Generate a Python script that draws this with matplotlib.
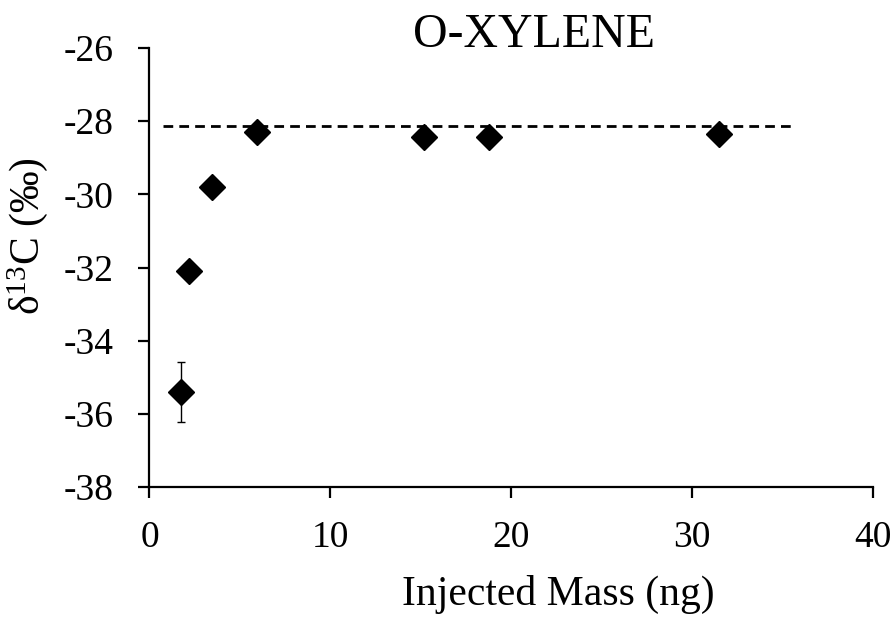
import matplotlib
matplotlib.use("Agg")
import matplotlib.pyplot as plt

plt.rcParams['font.family'] = ['Liberation Serif', 'DejaVu Serif']
plt.rcParams['axes.unicode_minus'] = False
plt.rcParams['mathtext.fontset'] = 'custom'
plt.rcParams['mathtext.rm'] = 'Liberation Serif'
plt.rcParams['mathtext.it'] = 'Liberation Serif:italic'
plt.rcParams['mathtext.bf'] = 'Liberation Serif:bold'

mass = [1.73, 2.20, 3.47, 5.96, 15.18, 18.76, 31.46]
d13c = [-35.40, -32.10, -29.79, -28.30, -28.44, -28.44, -28.35]
d13c_err = [0.82, 0, 0, 0, 0, 0, 0]
ref_x = [0.73, 35.5]
ref_y = [-28.13, -28.13]
xticks = [0, 10, 20, 30, 40]
yticks = [-26, -28, -30, -32, -34, -36, -38]

fig = plt.figure(figsize=(8.94, 6.17), dpi=100)
ax = fig.add_axes([0.1672, 0.2107, 0.8093, 0.7115])

ax.plot(ref_x, ref_y, color='black', lw=2.0, linestyle=(0, (3.5, 2.2)))
ax.errorbar(mass, d13c, yerr=d13c_err, fmt='none', ecolor='black',
            elinewidth=1.0, capsize=3, capthick=1.0, zorder=3)
ax.plot(mass, d13c, linestyle='none', marker='D', markersize=13.2,
        color='black', zorder=4)

ax.set_xlim(0, 40)
ax.set_ylim(-38, -26)
ax.set_xticks(xticks)
ax.set_yticks(yticks)
ax.spines['top'].set_visible(False)
ax.spines['right'].set_visible(False)
for s in ('left', 'bottom'):
    ax.spines[s].set_linewidth(1.6)
ax.tick_params(direction='out', length=8, width=1.6, labelsize=27)
ax.tick_params(axis='y', pad=18)
ax.tick_params(axis='x', pad=16)

fig.text(558 / 894, 1 - 605 / 617, 'Injected Mass (ng)', fontsize=30,
         ha='center', va='baseline')
fig.text(28 / 894, 1 - 236 / 617, r'δ$^{13}$C (‰)', fontsize=30,
         ha='center', va='center', rotation=90)
fig.text(534 / 894, 1 - 47 / 617, 'O-XYLENE', fontsize=34.5,
         ha='center', va='baseline')

fig.savefig('out.png', dpi=100)
